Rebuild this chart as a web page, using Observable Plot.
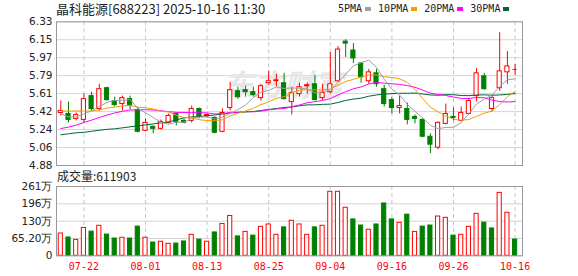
<!DOCTYPE html>
<html><head><meta charset="utf-8">
<script src="https://cdn.jsdelivr.net/npm/d3@7"></script>
<script src="https://cdn.jsdelivr.net/npm/@observablehq/plot@0.6"></script>
<style>
body{margin:0;background:#fff}
#wrap{position:relative;width:578px;height:276px;overflow:hidden;background:#fff}
.abs{position:absolute}
#title{left:56px;top:0;font:13px/18px "Noto Sans CJK SC",sans-serif;color:#222;white-space:nowrap}
#legend{position:absolute;left:338px;top:2px;display:flex;align-items:center;font:10px/14px "DejaVu Sans Mono",monospace;color:#222;white-space:nowrap}
#legend .it{display:flex;align-items:center;margin-right:7px}
#legend .sw{display:inline-block;width:6px;height:4px;margin-left:3px}
#vlabel{left:57px;top:168px;font:12px/16px "Noto Sans CJK SC",sans-serif;color:#222;white-space:nowrap}
</style></head><body>
<div id="wrap">
 <div id="price" class="abs" style="left:0;top:0"></div>
 <div id="vol" class="abs" style="left:0;top:170px"></div>
 <div id="title" class="abs"></div>
 <div id="legend"></div>
 <div id="vlabel" class="abs"></div>
</div>
<script>
const titleText = "晶科能源[688223] 2025-10-16 11:30";
const volLabel = "成交量:611903";
const dates = ["07-17","07-18","07-21","07-22","07-23","07-24","07-25","07-28","07-29","07-30","07-31",
"08-01","08-04","08-05","08-06","08-07","08-08","08-11","08-12","08-13","08-14","08-15","08-18","08-19","08-20","08-21","08-22","08-25","08-26","08-27","08-28","08-29",
"09-01","09-02","09-03","09-04","09-05","09-08","09-09","09-10","09-11","09-12","09-15","09-16","09-17","09-18","09-19","09-22","09-23","09-24","09-25","09-26","09-29","09-30",
"10-09","10-10","10-13","10-14","10-15","10-16"];
const opens = [5.41,5.40,5.35,5.34,5.58,5.45,5.66,5.53,5.50,5.55,5.44,5.23,5.27,5.25,5.31,5.40,5.33,5.33,5.45,5.38,
5.36,5.22,5.46,5.63,5.64,5.62,5.56,5.71,5.73,5.71,5.52,5.60,5.68,5.70,5.56,5.62,5.73,6.13,6.04,5.91,
5.73,5.81,5.65,5.54,5.46,5.45,5.37,5.34,5.17,5.06,5.30,5.37,5.33,5.40,5.58,5.78,5.45,5.66,5.82,5.85];
const highs = [5.53,5.52,5.41,5.60,5.62,5.70,5.67,5.57,5.58,5.58,5.47,5.35,5.28,5.34,5.40,5.41,5.35,5.48,5.46,5.40,
5.37,5.45,5.72,5.67,5.68,5.67,5.70,5.83,5.80,5.81,5.67,5.71,5.71,5.79,5.70,6.02,6.08,6.15,6.11,5.92,
5.85,5.85,5.69,5.57,5.58,5.51,5.39,5.35,5.20,5.32,5.50,5.46,5.47,5.56,5.86,5.81,5.59,6.22,6.03,5.90];
const lows = [5.38,5.31,5.33,5.31,5.43,5.43,5.53,5.47,5.43,5.44,5.21,5.22,5.20,5.24,5.30,5.28,5.30,5.31,5.35,5.36,
5.20,5.21,5.43,5.55,5.57,5.57,5.53,5.69,5.67,5.54,5.39,5.57,5.60,5.53,5.53,5.60,5.72,5.97,5.91,5.71,
5.70,5.67,5.47,5.40,5.40,5.29,5.30,5.16,5.00,5.04,5.29,5.33,5.32,5.40,5.52,5.64,5.42,5.63,5.70,5.79];
const closes = [5.43,5.34,5.39,5.55,5.45,5.65,5.54,5.49,5.56,5.48,5.22,5.31,5.25,5.32,5.38,5.32,5.31,5.45,5.38,5.39,
5.21,5.41,5.64,5.57,5.62,5.59,5.68,5.73,5.74,5.55,5.61,5.67,5.69,5.54,5.61,5.70,6.05,6.11,5.96,5.77,
5.82,5.70,5.50,5.46,5.48,5.34,5.35,5.17,5.09,5.31,5.40,5.36,5.41,5.53,5.81,5.65,5.56,5.83,5.88,5.85];
// volume, 万
const volumes = [84,69,60,105,91,113,80,65,68,65,110,68,50,53,45,46,54,79,61,53,
88,120,150,73,90,76,109,118,79,107,132,118,79,107,113,241,241,181,137,114,
98,118,197,137,124,155,90,110,114,148,143,76,79,109,158,125,103,237,162,61.19];
const ma5 = [5.40,5.37,5.37,5.40,5.432,5.476,5.516,5.536,5.538,5.544,5.458,5.412,5.364,5.316,5.296,5.316,5.316,5.356,5.368,5.370,
5.348,5.368,5.406,5.444,5.490,5.566,5.620,5.638,5.672,5.658,5.662,5.660,5.652,5.612,5.624,5.642,5.718,5.802,5.886,5.918,
5.942,5.872,5.750,5.650,5.592,5.496,5.426,5.360,5.286,5.252,5.264,5.266,5.314,5.402,5.502,5.552,5.592,5.676,5.746,5.754];
const ma10 = [5.43,5.43,5.43,5.43,5.43,5.44,5.46,5.47,5.48,5.488,5.467,5.464,5.450,5.427,5.420,5.387,5.364,5.360,5.342,5.333,
5.332,5.342,5.381,5.406,5.430,5.457,5.494,5.522,5.558,5.574,5.614,5.640,5.645,5.642,5.641,5.652,5.689,5.727,5.749,5.771,
5.792,5.795,5.776,5.768,5.755,5.719,5.649,5.555,5.468,5.422,5.380,5.346,5.337,5.344,5.377,5.408,5.429,5.495,5.574,5.628];
const ma20 = [5.253,5.267,5.287,5.314,5.338,5.365,5.389,5.410,5.427,5.440,5.443,5.443,5.440,5.433,5.423,5.416,5.415,5.413,5.413,5.411,
5.400,5.403,5.416,5.417,5.425,5.422,5.429,5.441,5.450,5.454,5.473,5.491,5.513,5.524,5.536,5.555,5.592,5.625,5.654,5.673,
5.703,5.718,5.711,5.705,5.698,5.686,5.669,5.641,5.609,5.597,5.586,5.571,5.557,5.556,5.566,5.564,5.539,5.525,5.521,5.525];
const ma30 = [5.19,5.20,5.21,5.215,5.225,5.235,5.245,5.25,5.26,5.27,5.28,5.29,5.30,5.31,5.32,5.34,5.36,5.37,5.375,5.38,
5.39,5.40,5.41,5.415,5.42,5.425,5.435,5.445,5.455,5.465,5.471,5.482,5.492,5.492,5.497,5.499,5.516,5.536,5.550,5.559,
5.579,5.592,5.601,5.605,5.609,5.609,5.611,5.601,5.592,5.589,5.595,5.594,5.586,5.585,5.591,5.593,5.589,5.592,5.597,5.607];
const maNames = ["5PMA","10PMA","20PMA","30PMA"];
const maColors = ["#a0a0a0","#f0a000","#ff00ff","#006633"];
const priceTickLabels = ["4.88","5.06","5.24","5.42","5.61","5.79","5.97","6.15","6.33"];
const volTickLabels = ["0","65.20万","130万","196万","261万"];
const xTickDates = ["07-22","08-01","08-13","08-25","09-04","09-16","09-26","10-16"];

const RED = "#ff0000", GREEN = "#008000";
const maSeries = [ma5, ma10, ma20, ma30];
const rows = dates.map((d, i) => ({i, date: d, open: opens[i], high: highs[i], low: lows[i], close: closes[i], vol: volumes[i]}));
rows.forEach((r, i) => { r.up = r.close >= r.open; r.volUp = i === 0 ? true : r.close >= rows[i - 1].close; });
const maRows = maSeries.map((s, k) => s.map((v, i) => ({i, v, k})));
const tickIdx = xTickDates.map(d => dates.indexOf(d));
const pMin = +priceTickLabels[0], pMax = +priceTickLabels[priceTickLabels.length - 1];
const pTicks = priceTickLabels.map((_, k) => pMin + k * (pMax - pMin) / (priceTickLabels.length - 1));
const vMax = parseFloat(volTickLabels[volTickLabels.length - 1]);
const vTicks = volTickLabels.map((_, k) => k * vMax / (volTickLabels.length - 1));
const HW = 0.27;
const xOpt = {type: "linear", domain: [-0.5, dates.length - 0.5], range: [56.45, 518.45]};
const axisFont = {fontSize: 10.5, fontFamily: "DejaVu Sans", fill: "#222"};

const price = Plot.plot({
  width: 578, height: 170, marginLeft: 56, marginRight: 56, marginTop: 21.3, marginBottom: 5,
  style: {background: "transparent", overflow: "visible"},
  x: {...xOpt, axis: null},
  y: {domain: [pMin, pMax], axis: null, label: null},
  color: {type: "identity"},
  marks: [
    Plot.ruleY(pTicks, {stroke: "#d4d4d4"}),
    Plot.ruleX(tickIdx, {stroke: "#c8c8c8", strokeDasharray: "4,3"}),
    Plot.text(["东方财富"], {text: d => d, frameAnchor: "middle", dx: -6, dy: -7, fontSize: 30, fontWeight: "bold", fontStyle: "italic", fill: "#e6e6e6", fontFamily: "Noto Sans CJK SC"}),
    Plot.ruleX(rows, {x: "i", y1: "low", y2: "high", stroke: d => d.up ? RED : GREEN}),
    Plot.rect(rows, {x1: d => d.i - HW, x2: d => d.i + HW, y1: "open", y2: "close", fill: d => d.up ? "#fff" : GREEN, stroke: d => d.up ? RED : GREEN}),
    Plot.ruleY(rows.filter(d => d.open === d.close), {y: "close", x1: d => d.i - HW, x2: d => d.i + HW, stroke: RED}),
    ...[3, 2, 1, 0].map(k => Plot.line(maRows[k], {x: "i", y: "v", stroke: maColors[k], strokeWidth: 1})),
    Plot.frame({stroke: "#999"}),
    Plot.axisY(pTicks, {anchor: "left", label: null, tickSize: 0, tickPadding: 4, tickFormat: d => priceTickLabels[pTicks.indexOf(d)], ...axisFont})
  ]
});
document.getElementById("price").appendChild(price);

const vol = Plot.plot({
  width: 578, height: 106, marginLeft: 56, marginRight: 56, marginTop: 16, marginBottom: 20.7,
  style: {background: "transparent", overflow: "visible"},
  x: {...xOpt, label: null},
  y: {domain: [0, vMax], label: null},
  color: {type: "identity"},
  marks: [
    Plot.ruleY(vTicks, {stroke: "#d4d4d4"}),
    Plot.ruleX(tickIdx, {stroke: "#c8c8c8", strokeDasharray: "4,3"}),
    Plot.rect(rows, {x1: d => d.i - HW, x2: d => d.i + HW, y1: 0, y2: "vol", fill: d => d.volUp ? "#fff" : GREEN, stroke: d => d.volUp ? RED : GREEN}),
    Plot.frame({stroke: "#999"}),
    Plot.axisY(vTicks, {anchor: "left", label: null, tickSize: 0, tickPadding: 4, tickFormat: d => volTickLabels[vTicks.indexOf(d)], ...axisFont}),
    Plot.axisX(tickIdx, {anchor: "bottom", label: null, tickSize: 0, tickPadding: 7, tickFormat: i => dates[i], fill: RED, fontSize: 10, fontFamily: "DejaVu Sans Mono"})
  ]
});
document.getElementById("vol").appendChild(vol);

document.getElementById("title").textContent = titleText;
document.getElementById("vlabel").textContent = volLabel;
const lg = document.getElementById("legend");
maNames.forEach((n, k) => {
  const it = document.createElement("span"); it.className = "it";
  const t = document.createElement("span"); t.textContent = n;
  const s = document.createElement("span"); s.className = "sw"; s.style.background = maColors[k];
  it.appendChild(t); it.appendChild(s); lg.appendChild(it);
});
</script>
</body></html>
